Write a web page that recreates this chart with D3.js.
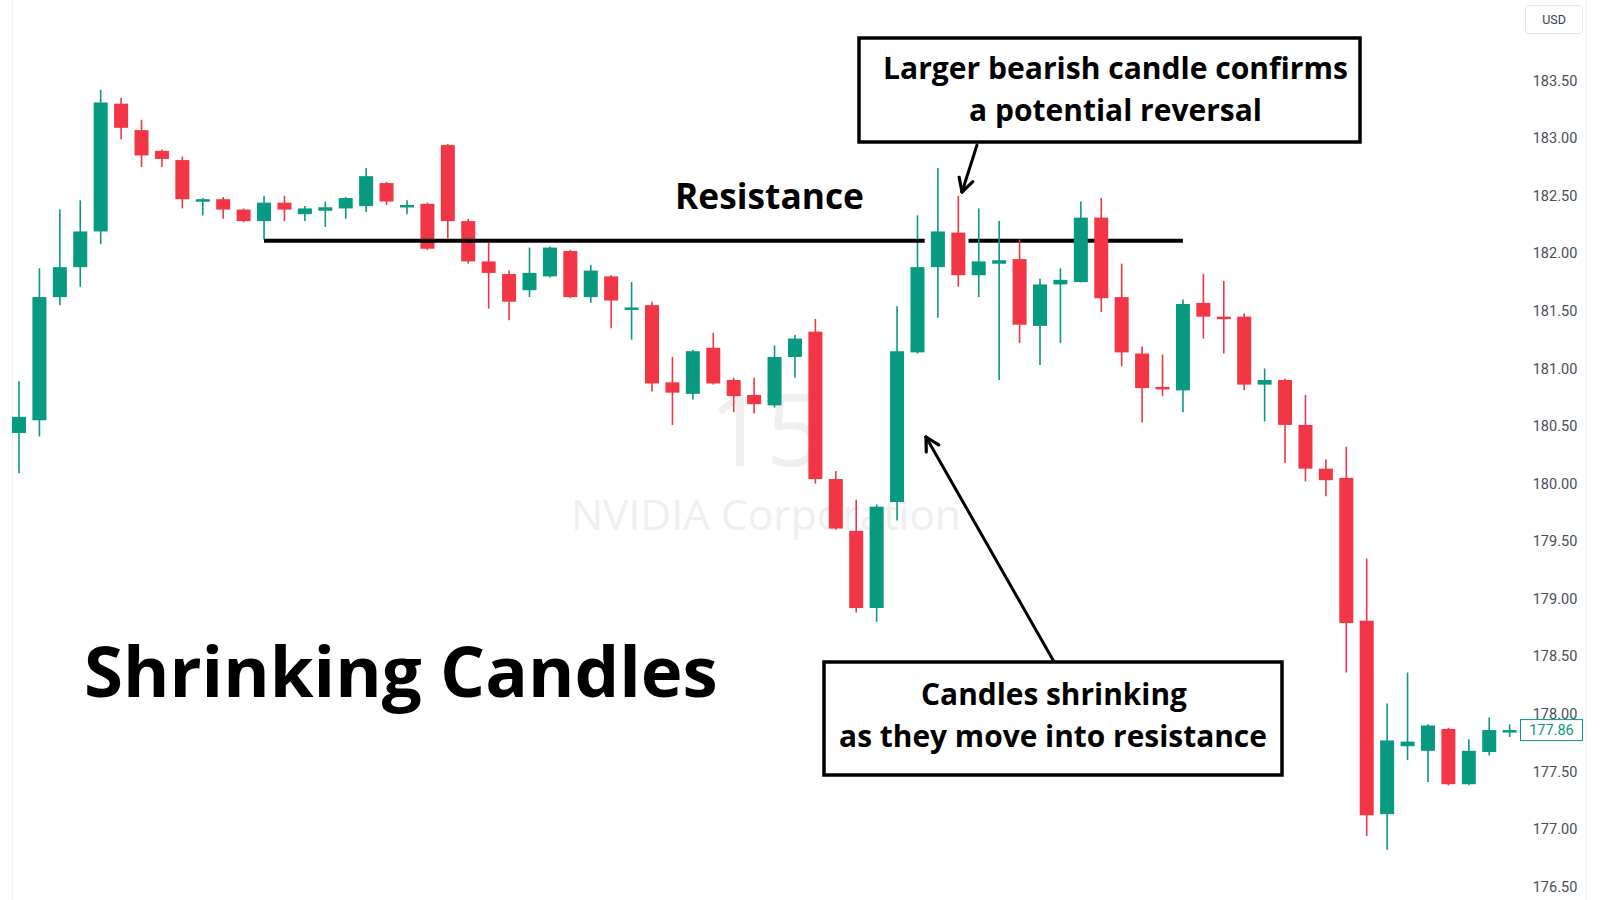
<!DOCTYPE html>
<html><head><meta charset="utf-8">
<script src="https://cdn.jsdelivr.net/npm/d3@7"></script>
<style>html,body{margin:0;padding:0;background:#fff;overflow:hidden} svg{display:block}</style>
</head><body>
<svg id="chart" width="1600" height="900"></svg>
<script>
// ---- data ----
const opens  = [180.44,180.55,181.62,181.88,182.19,183.30,183.07,182.89,182.81,182.46,
                182.47,182.38,182.28,182.44,182.34,182.37,182.39,182.41,182.61,182.41,
                182.43,182.94,182.28,181.93,181.82,181.68,181.80,182.02,181.62,181.80,
                181.52,181.55,180.88,180.78,181.18,180.90,180.77,180.68,181.10,181.32,
                180.04,179.59,178.92,179.84,181.14,181.88,182.18,181.81,181.91,181.95,
                181.37,181.73,181.75,182.31,181.62,181.13,180.84,180.81,181.57,181.45,
                181.45,180.86,180.90,180.51,180.13,180.05,178.81,177.13,177.72,177.68,
                177.87,177.39,177.67,177.85];
const highs  = [180.89,181.87,182.38,182.46,183.42,183.35,183.16,182.90,182.84,182.48,
                182.49,182.39,182.50,182.50,182.41,182.45,182.49,182.74,182.62,182.46,
                182.44,182.95,182.30,182.09,181.85,182.05,182.06,182.03,181.90,181.81,
                181.75,181.58,181.10,181.16,181.31,180.92,180.92,181.20,181.29,181.43,
                180.11,179.86,179.82,181.54,182.33,182.74,182.50,182.39,182.28,182.12,
                181.78,181.87,182.45,182.48,181.91,181.19,181.12,181.60,181.82,181.76,
                181.48,181.00,180.91,180.77,180.21,180.32,179.35,178.09,178.36,177.91,
                177.88,177.78,177.97,177.91];
const lows   = [180.09,180.41,181.55,181.71,182.08,182.99,182.75,182.75,182.39,182.33,
                182.30,182.27,182.12,182.28,182.28,182.23,182.30,182.36,182.42,182.34,
                182.03,182.13,181.91,181.52,181.42,181.62,181.79,181.61,181.57,181.35,
                181.25,180.80,180.51,180.73,180.86,180.62,180.61,180.66,180.92,180.00,
                179.60,178.88,178.80,179.68,181.13,181.44,181.71,181.62,180.90,181.22,
                181.03,181.22,181.75,181.49,181.02,180.53,180.76,180.62,181.26,181.13,
                180.81,180.54,180.18,180.02,179.89,178.36,176.94,176.82,177.60,177.41,
                177.38,177.38,177.64,177.80];
const closes = [180.58,181.62,181.88,182.19,183.31,183.09,182.85,182.82,182.47,182.47,
                182.38,182.28,182.44,182.38,182.39,182.40,182.48,182.67,182.45,182.42,
                182.04,182.28,181.93,181.83,181.58,181.83,182.05,181.62,181.85,181.59,
                181.53,180.87,180.79,181.15,180.87,180.76,180.69,181.10,181.26,180.04,
                179.61,178.92,179.80,181.15,181.88,182.19,181.81,181.93,181.94,181.38,
                181.73,181.77,182.31,181.61,181.14,180.83,180.83,181.56,181.45,181.44,
                180.86,180.90,180.51,180.13,180.03,178.79,177.12,177.77,177.76,177.90,
                177.39,177.68,177.86,177.86];
const priceTicks = [183.5,183.0,182.5,182.0,181.5,181.0,180.5,180.0,179.5,179.0,178.5,178.0,177.5,177.0,176.5];
const lastPrice = 177.86;
const resistanceLevel = 182.11;
const resistanceSegments = [[12, 44.35], [46.5, 57]];   // in bar-index units
const titleText = "Shrinking Candles";
const resistanceLabel = "Resistance";
const topNote = ["Larger bearish candle confirms", "a potential reversal"];
const bottomNote = ["Candles shrinking", "as they move into resistance"];
const watermark = ["15", "NVIDIA Corporation"];
const currency = "USD";

// ---- setup ----
const svg = d3.select("#chart");
const UP = "#089981", DOWN = "#f23645";
const bars = d3.range(opens.length);
const x = d3.scaleBand().domain(bars).range([8.79, 8.79 + 20.42 * bars.length])
  .paddingInner(0.314).paddingOuter(0.157);
const xc = i => x(i) + x.bandwidth() / 2;
const xi = d3.scaleLinear().domain([0, bars.length - 1]).range([xc(0), xc(bars.length - 1)]);
const y = d3.scaleLinear().domain([176.5, 183.5]).range([886.7, 80.6]);

function fitText(sel, target) {
  const w = sel.node().getComputedTextLength();
  const fs = parseFloat(sel.attr("font-size"));
  sel.attr("font-size", fs * target / w);
  return sel;
}
const F = "'Open Sans', sans-serif";

// frame lines
svg.append("line").attr("x1", 12.5).attr("x2", 12.5).attr("y1", 0).attr("y2", 900)
  .attr("stroke", "#f0f1f3").attr("stroke-width", 1);
svg.append("line").attr("x1", 1586.5).attr("x2", 1586.5).attr("y1", 0).attr("y2", 900)
  .attr("stroke", "#eef0f3").attr("stroke-width", 1);

// watermark
svg.append("text").attr("x", 766).attr("y", 466).attr("text-anchor", "middle")
  .attr("font-family", F).attr("font-size", 100).attr("fill", "#efefef")
  .text(watermark[0]);
fitText(svg.append("text").attr("x", 766).attr("y", 530).attr("text-anchor", "middle")
  .attr("font-family", F).attr("font-size", 44).attr("fill", "#efefef")
  .text(watermark[1]), 390);

// resistance segment 2 (behind candles)
const resG = svg.append("g");
// candles
const g = svg.append("g");
const candle = g.selectAll("g.c").data(bars).join("g").attr("class", "c");
candle.append("line")
  .attr("x1", i => xc(i)).attr("x2", i => xc(i))
  .attr("y1", i => y(highs[i])).attr("y2", i => y(lows[i]))
  .attr("stroke", i => closes[i] >= opens[i] ? UP : DOWN).attr("stroke-width", 1.6);
candle.append("rect")
  .attr("x", i => x(i)).attr("width", x.bandwidth())
  .attr("y", i => y(Math.max(opens[i], closes[i])))
  .attr("height", i => Math.max(2.5, Math.abs(y(opens[i]) - y(closes[i]))))
  .attr("fill", i => closes[i] >= opens[i] ? UP : DOWN);

// resistance lines
const lineG = svg.append("g");
resistanceSegments.forEach((s, k) => {
  (k === 0 ? lineG : resG).append("line")
    .attr("x1", xi(s[0])).attr("x2", xi(s[1]))
    .attr("y1", y(resistanceLevel)).attr("y2", y(resistanceLevel))
    .attr("stroke", "#000").attr("stroke-width", 4);
});

// price axis
const axisG = svg.append("g").attr("transform", "translate(1555,0)");
axisG.selectAll("text").data(priceTicks).join("text")
  .attr("x", 0).attr("y", d => y(d)).attr("dy", "0.35em").attr("text-anchor", "middle")
  .attr("font-family", "Roboto, sans-serif").attr("font-size", 14.5).attr("fill", "#4a4d57")
  .text(d => d3.format(".2f")(d));

// last price label
svg.append("rect").attr("x", 1520.5).attr("y", y(lastPrice) - 10.5).attr("width", 62).attr("height", 21)
  .attr("fill", "#fff").attr("stroke", UP).attr("stroke-width", 1);
svg.append("text").attr("x", 1551.5).attr("y", y(lastPrice)).attr("dy", "0.35em").attr("text-anchor", "middle")
  .attr("font-family", "Roboto, sans-serif").attr("font-size", 14.5).attr("fill", UP)
  .text(d3.format(".2f")(lastPrice));

// USD box
svg.append("rect").attr("x", 1525.5).attr("y", 5.5).attr("width", 57).attr("height", 28).attr("rx", 3)
  .attr("fill", "#fff").attr("stroke", "#e3e5ea");
svg.append("text").attr("x", 1554).attr("y", 19.5).attr("dy", "0.35em").attr("text-anchor", "middle")
  .attr("font-family", "Roboto, sans-serif").attr("font-size", 12.5).attr("fill", "#3a3d45").text(currency);

// title
fitText(svg.append("text").attr("x", 84).attr("y", 697).attr("font-family", F).attr("font-weight", 700)
  .attr("font-size", 70).attr("fill", "#000").text(titleText), 634);

// resistance label
fitText(svg.append("text").attr("x", 675).attr("y", 209).attr("font-family", F).attr("font-weight", 700)
  .attr("font-size", 32).attr("fill", "#000").text(resistanceLabel), 189);

// annotation boxes
function box(x0, y0, w, h) {
  svg.append("rect").attr("x", x0).attr("y", y0).attr("width", w).attr("height", h)
    .attr("fill", "#fff").attr("stroke", "#000").attr("stroke-width", 3.5);
}
box(859, 38, 501, 104);
fitText(svg.append("text").attr("x", 1115.5).attr("y", 79).attr("text-anchor", "middle").attr("font-family", F)
  .attr("font-weight", 700).attr("font-size", 28).text(topNote[0]), 465);
fitText(svg.append("text").attr("x", 1115.5).attr("y", 121).attr("text-anchor", "middle").attr("font-family", F)
  .attr("font-weight", 700).attr("font-size", 28).text(topNote[1]), 293);

box(824, 662, 458, 113);
fitText(svg.append("text").attr("x", 1054).attr("y", 705).attr("text-anchor", "middle").attr("font-family", F)
  .attr("font-weight", 700).attr("font-size", 28).text(bottomNote[0]), 266);
fitText(svg.append("text").attr("x", 1053).attr("y", 747).attr("text-anchor", "middle").attr("font-family", F)
  .attr("font-weight", 700).attr("font-size", 28).text(bottomNote[1]), 428);

// arrows
function arrow(x0, y0, x1, y1) {
  const a = Math.atan2(y1 - y0, x1 - x0), L = 15, s = 0.5;
  svg.append("line").attr("x1", x0).attr("y1", y0).attr("x2", x1).attr("y2", y1)
    .attr("stroke", "#000").attr("stroke-width", 3).attr("stroke-linecap", "round");
  [a + Math.PI - s, a + Math.PI + s].forEach(b => {
    svg.append("line").attr("x1", x1).attr("y1", y1)
      .attr("x2", x1 + L * Math.cos(b)).attr("y2", y1 + L * Math.sin(b))
      .attr("stroke", "#000").attr("stroke-width", 3.2).attr("stroke-linecap", "round");
  });
}
arrow(977, 145, 962, 192);
arrow(1053, 660, 926, 437);
</script>
</body></html>
